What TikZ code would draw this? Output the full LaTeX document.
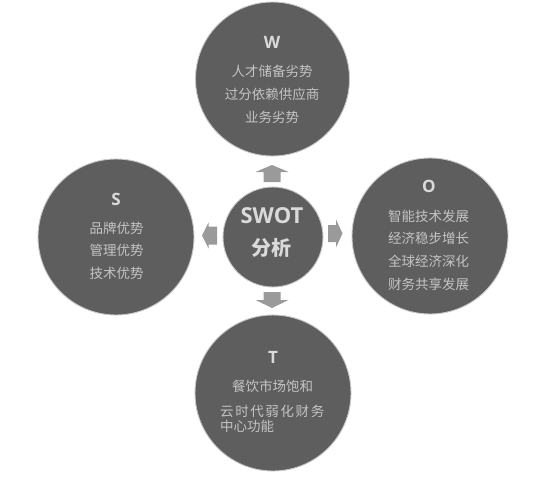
\documentclass[tikz,border=0pt]{standalone}
\usepackage{fontspec}
\newfontfamily\cjk{Noto Sans CJK SC}
\newfontfamily\hdfont{Open Sans}[BoldFont={Open Sans Bold}]
\definecolor{circfill}{HTML}{5E5E5E}
\definecolor{circrim}{HTML}{C8C8C8}
\definecolor{txtgray}{HTML}{C4C4C4}
\definecolor{hdgray}{HTML}{DADADA}
\definecolor{arrgray}{HTML}{9A9A9A}
\tikzset{
  x=1pt, y=-1pt,
  bigcirc/.style={circle, fill=circfill, draw=circrim, line width=0.9pt, inner sep=0pt},
  body/.style={font=\cjk\fontsize{13.5}{16}\selectfont, text=txtgray, inner sep=0pt, text height=0.88em, text depth=0.12em},
  head/.style={font=\hdfont\bfseries\fontsize{17}{20}\selectfont, text=hdgray, inner sep=0pt, text height=0.714em, text depth=0pt},
  blockarr/.style={fill=arrgray, draw=none}
}
\begin{document}
\begin{tikzpicture}
\useasboundingbox[fill=white] (0,0) rectangle (537,479);
% circles
\node[bigcirc, minimum size=154pt] (W) at (272.5,79) {};
\node[bigcirc, minimum size=156pt] (S) at (116,237) {};
\node[bigcirc, minimum size=156pt] (O) at (430,236) {};
\node[bigcirc, minimum size=156pt] (T) at (273,393) {};
\node[bigcirc, minimum size=100pt] (C) at (273,237) {};
% centre text
\node[font=\hdfont\bfseries\fontsize{22}{26}\selectfont, text=hdgray, inner sep=0pt, text height=0.714em, text depth=0pt] (swot) at (272,220) {SWOT};
\node[font=\cjk\bfseries\fontsize{20}{24}\selectfont, text=hdgray, inner sep=0pt, text height=0.88em, text depth=0.12em] (fx) at (271,252) {分析};
% W
\node[head] (Wh) at (272,45) {W};
\node[body] (W1) at (272,73) {人才储备劣势};
\node[body] (W2) at (272,96) {过分依赖供应商};
\node[body] (W3) at (272,119) {业务劣势};
% S
\node[head] (Sh) at (116,202) {S};
\node[body] (S1) at (116.5,230) {品牌优势};
\node[body] (S2) at (116.5,252) {管理优势};
\node[body] (S3) at (116.5,275) {技术优势};
% O
\node[head] (Oh) at (429,189) {O};
\node[body] (O1) at (428.5,218) {智能技术发展};
\node[body] (O2) at (428.5,240) {经济稳步增长};
\node[body] (O3) at (428.5,263) {全球经济深化};
\node[body] (O4) at (428.5,286) {财务共享发展};
% T
\node[head] (Th) at (273,360) {T};
\node[body] (T1) at (272.5,388) {餐饮市场饱和};
\node[body, anchor=west] (T2) at (220,413) {云\hspace{1.6pt}时\hspace{1.6pt}代\hspace{1.6pt}弱\hspace{1.6pt}化\hspace{1.6pt}财\hspace{1.6pt}务};
\node[body, anchor=west] (T3) at (220,428) {中心功能};
% block arrows
\fill[blockarr] (263.5,182) -- (263.5,172) -- (255.5,172) -- (272,165) -- (288.5,172) -- (280.5,172) -- (280.5,182) -- cycle;
\fill[blockarr] (263.5,292) -- (263.5,300) -- (255.5,300) -- (272,308) -- (288.5,300) -- (280.5,300) -- (280.5,292) -- cycle;
\fill[blockarr] (217,226.5) -- (208.5,226.5) -- (208.5,222.5) -- (202,235.5) -- (208.5,248.5) -- (208.5,244.5) -- (217,244.5) -- cycle;
\fill[blockarr] (328,225) -- (336,225) -- (336,219.5) -- (342.5,233.5) -- (336,247.5) -- (336,242) -- (328,242) -- cycle;
\end{tikzpicture}
\end{document}
